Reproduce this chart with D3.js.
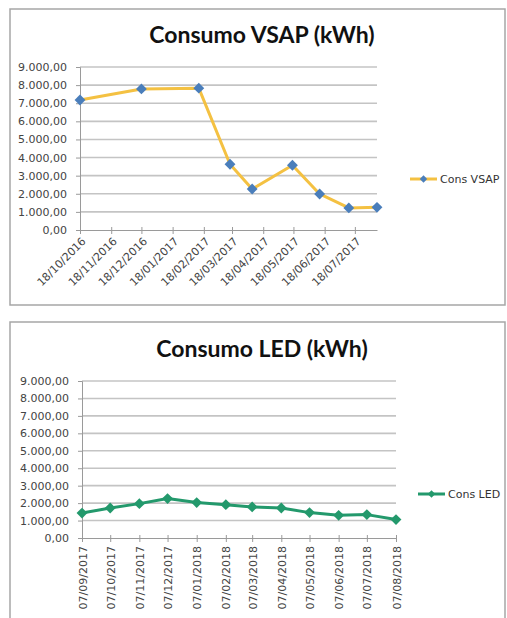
<!DOCTYPE html>
<html>
<head>
<meta charset="utf-8">
<script src="https://cdn.jsdelivr.net/npm/d3@7"></script>
<style>
  body { margin: 0; background: #fff; }
  svg { display: block; }
  text { font-family: "DejaVu Sans", sans-serif; fill: #404040; }
</style>
</head>
<body>
<div id="chart"></div>
<script>
// Consumo VSAP - dates and kWh
let vsapDates = ["18/10/2016", "18/12/2016", "13/02/2017", "16/03/2017", "07/04/2017",
    "17/05/2017", "13/06/2017", "12/07/2017", "09/08/2017"]
let vsapValues = [7180, 7790, 7830, 3630, 2265, 3575, 1990, 1220, 1250]
let vsapTicks = ["18/10/2016", "18/11/2016", "18/12/2016", "18/01/2017", "18/02/2017",
    "18/03/2017", "18/04/2017", "18/05/2017", "18/06/2017", "18/07/2017"]

// Consumo LED
let ledDates = ["07/09/2017", "07/10/2017", "07/11/2017", "07/12/2017", "07/01/2018", "07/02/2018",
    "07/03/2018", "07/04/2018", "07/05/2018", "07/06/2018", "07/07/2018", "07/08/2018"]
let ledValues = [1430, 1720, 1970, 2260, 2030, 1910, 1780, 1720, 1455, 1300, 1340, 1055]
let ledTicks = ledDates

let yTicks = [0, 1000, 2000, 3000, 4000, 5000, 6000, 7000, 8000, 9000]

let parseDate = d3.timeParse("%d/%m/%Y")
let fmtDate = d3.timeFormat("%d/%m/%Y")
let locale = d3.formatLocale({ decimal: ",", thousands: ".", grouping: [3], currency: ["", ""] })
let fmtNum = locale.format(",.2f")

let svg = d3.select("#chart").append("svg")
    .attr("width", 507)
    .attr("height", 618)

function drawChart(cfg) {
    let g = svg.append("g")

    // frame
    g.append("rect")
        .attr("x", cfg.frame[0]).attr("y", cfg.frame[1])
        .attr("width", cfg.frame[2]).attr("height", cfg.frame[3])
        .style("fill", "#fff")
        .style("stroke", "#a6a6a6")
        .style("stroke-width", 1.5)

    let dates = cfg.dates.map(parseDate)
    let ticks = cfg.ticks.map(parseDate)

    var x = d3.scaleTime()
        .domain([dates[0], dates[dates.length - 1]])
        .range([cfg.left, cfg.right])
    var y = d3.scaleLinear()
        .domain([0, 9000])
        .range([cfg.bottom, cfg.top])

    // gridlines
    g.append("g").selectAll("line")
        .data(yTicks.filter(d => d > 0))
        .enter().append("line")
        .attr("x1", cfg.left).attr("x2", cfg.right)
        .attr("y1", d => y(d)).attr("y2", d => y(d))
        .style("stroke", "#c4c4c4")
        .style("stroke-width", 1.6)

    // y axis
    let yAxis = g.append("g")
        .attr("transform", "translate(" + cfg.left + ",0)")
        .call(d3.axisLeft(y).tickValues(yTicks).tickFormat(fmtNum).tickSize(4).tickPadding(9))
    yAxis.select(".domain").style("stroke", "#9a9a9a")
    yAxis.selectAll(".tick line").style("stroke", "#9a9a9a")
    yAxis.selectAll("text").style("font-size", "11px").style("fill", "#444")

    // x axis
    let xAxis = g.append("g")
        .attr("transform", "translate(0," + cfg.bottom + ")")
        .call(d3.axisBottom(x).tickValues(ticks).tickFormat(fmtDate).tickSize(4).tickSizeOuter(0))
    xAxis.select(".domain").style("stroke", "#9a9a9a")
    xAxis.selectAll(".tick line").style("stroke", "#9a9a9a").attr("y1", -3)
    xAxis.selectAll("text")
        .style("font-size", "11px")
        .style("fill", "#444")
        .style("text-anchor", "end")
        .attr("dy", null)
        .attr("y", 0)
        .attr("x", 0)
        .attr("transform", cfg.rotate == 45 ? "translate(6,12) rotate(-45)" : "translate(4,8) rotate(-90)")

    // line + markers
    let pts = dates.map((d, i) => ({ date: d, value: cfg.values[i] }))
    let line = d3.line()
        .x(d => x(d.date))
        .y(d => y(d.value))
    g.append("path")
        .datum(pts)
        .attr("d", line)
        .style("fill", "none")
        .style("stroke", cfg.lineColor)
        .style("stroke-width", 3)
        .style("stroke-linejoin", "round")

    let diamond = d3.symbol().type(d3.symbolDiamond2).size(75)
    g.append("g").selectAll("path")
        .data(pts)
        .enter().append("path")
        .attr("d", diamond)
        .attr("transform", d => "translate(" + x(d.date) + "," + y(d.value) + ")")
        .style("fill", cfg.markerColor)

    // title
    g.append("text")
        .text(cfg.title)
        .attr("x", 262)
        .attr("y", cfg.titleY)
        .style("text-anchor", "middle")
        .style("font-family", "Lato, sans-serif")
        .style("font-weight", "bold")
        .style("font-size", "23px")
        .style("fill", "#111")

    // legend
    let lg = g.append("g").attr("transform", "translate(" + cfg.legend[0] + "," + cfg.legend[1] + ")")
    lg.append("line")
        .attr("x1", 0).attr("x2", 27)
        .style("stroke", cfg.lineColor)
        .style("stroke-width", 3)
    lg.append("path")
        .attr("d", d3.symbol().type(d3.symbolDiamond2).size(35))
        .attr("transform", "translate(13.5,0)")
        .style("fill", cfg.markerColor)
    lg.append("text")
        .text(cfg.legendLabel)
        .attr("x", 30)
        .attr("dy", "0.35em")
        .style("font-size", "11px")
        .style("fill", "#333")
}

drawChart({
    frame: [10, 9, 495, 296],
    dates: vsapDates, values: vsapValues, ticks: vsapTicks,
    left: 80, right: 377, top: 67, bottom: 230,
    rotate: 45,
    lineColor: "#f4c142", markerColor: "#4a7ebb",
    title: "Consumo VSAP (kWh)", titleY: 43,
    legend: [410, 179], legendLabel: "Cons VSAP"
})

drawChart({
    frame: [10, 322, 495, 310],
    dates: ledDates, values: ledValues, ticks: ledTicks,
    left: 82, right: 396, top: 381, bottom: 538,
    rotate: 90,
    lineColor: "#23996c", markerColor: "#23996c",
    title: "Consumo LED (kWh)", titleY: 357,
    legend: [418, 494], legendLabel: "Cons LED"
})
</script>
</body>
</html>
